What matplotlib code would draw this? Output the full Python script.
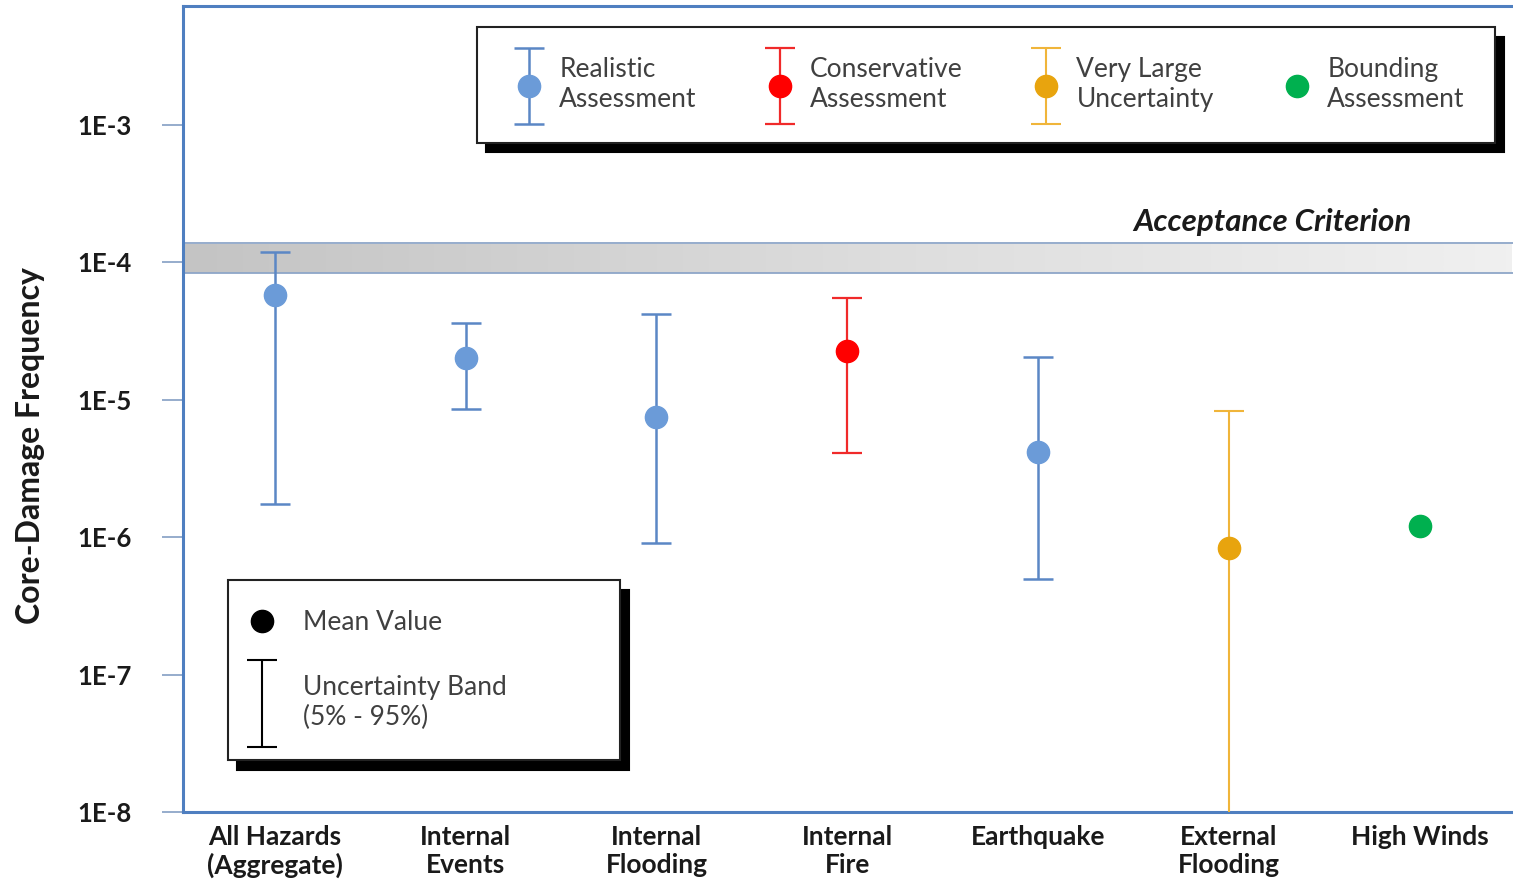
import numpy as np
import matplotlib
matplotlib.use('Agg')
import matplotlib.pyplot as plt
from matplotlib import rcParams
from matplotlib.colors import LinearSegmentedColormap
from matplotlib.container import ErrorbarContainer
from matplotlib.legend_handler import HandlerErrorbar
from matplotlib.lines import Line2D

rcParams['font.family'] = ['Lato', 'DejaVu Sans']

# data
categories = ['All Hazards\n(Aggregate)', 'Internal\nEvents', 'Internal\nFlooding',
              'Internal\nFire', 'Earthquake', 'External\nFlooding', 'High Winds']
mean_cdf = [5.8e-5, 2.0e-5, 7.5e-6, 2.25e-5, 4.2e-6, 8.3e-7, 1.2e-6]
low_cdf = [1.75e-6, 8.6e-6, 9.1e-7, 4.1e-6, 5.0e-7, 1e-9, np.nan]
high_cdf = [1.2e-4, 3.6e-5, 4.2e-5, 5.5e-5, 2.05e-5, 8.3e-6, np.nan]
kind = ['realistic', 'realistic', 'realistic', 'conservative', 'realistic', 'very_large', 'bounding']

acceptance_low = 8.4e-5
acceptance_high = 1.38e-4

ytick_vals = [1e-8, 1e-7, 1e-6, 1e-5, 1e-4, 1e-3]
ytick_labels = ['1E-8', '1E-7', '1E-6', '1E-5', '1E-4', '1E-3']

styles = {
    'realistic': dict(mc='#6b9bd8', ec='#5b87c5', label='Realistic\nAssessment', lw=1.8),
    'conservative': dict(mc='#ff0000', ec='#f02a2a', label='Conservative\nAssessment', lw=1.6),
    'very_large': dict(mc='#e8a40e', ec='#f0b53a', label='Very Large\nUncertainty', lw=1.5),
    'bounding': dict(mc='#00b04f', ec='#00b04f', label='Bounding\nAssessment', lw=1.5),
}

fig = plt.figure(figsize=(15.13, 8.8), dpi=100)
ax = fig.add_axes([183 / 1513, 68 / 880, 1 - 183 / 1513, (812 - 6) / 880])
ax.set_yscale('log')

x = np.arange(len(categories))
mean_cdf = np.array(mean_cdf)
low_cdf = np.array(low_cdf)
high_cdf = np.array(high_cdf)
kind = np.array(kind)

handles = {}
for k, st in styles.items():
    sel = kind == k
    xs = x[sel]
    if k == 'bounding':
        h, = ax.plot(xs, mean_cdf[sel], 'o', color=st['mc'], ms=16, zorder=4,
                     label=st['label'])
    else:
        yerr = np.vstack([mean_cdf[sel] - low_cdf[sel], high_cdf[sel] - mean_cdf[sel]])
        h = ax.errorbar(xs, mean_cdf[sel], yerr=yerr, fmt='o', color=st['mc'], ms=16,
                        ecolor=st['ec'], elinewidth=st['lw'], capsize=11,
                        capthick=st['lw'], zorder=4, label=st['label'])
    handles[k] = h

# acceptance criterion band
xmin, xmax = -0.482, 6.49
grad = np.linspace(0, 1, 256).reshape(1, -1)
cmap = LinearSegmentedColormap.from_list('band', ['#c4c4c4', '#dcdcdc', '#f0f0f0'])
ax.imshow(grad, extent=[xmin, xmax, acceptance_low, acceptance_high], aspect='auto',
          cmap=cmap, zorder=1, interpolation='bilinear')
ax.axhline(acceptance_low, color='#8ea6c8', lw=1.3, zorder=2)
ax.axhline(acceptance_high, color='#8ea6c8', lw=1.3, zorder=2)
ax.text(5.96, 1.55e-4, 'Acceptance Criterion', ha='right', va='bottom',
        fontsize=22.5, fontweight='bold', fontstyle='italic', color='#1a1a1a')

ax.set_xlim(xmin, xmax)
ax.set_ylim(1e-8, 7.35e-3)

ax.set_yticks(ytick_vals)
ax.set_yticklabels(ytick_labels)
ax.minorticks_off()
ax.set_xticks(x)
ax.set_xticklabels(categories)
ax.tick_params(axis='y', length=15, width=1.3, color='#8ea6c8', pad=22,
               labelsize=18.5, labelcolor='#1a1a1a')
ax.tick_params(axis='x', length=0, pad=9, labelsize=19, labelcolor='#1a1a1a')
for lab in ax.get_xticklabels() + ax.get_yticklabels():
    lab.set_fontweight('bold')

for s in ['left', 'top', 'bottom']:
    ax.spines[s].set_color('#4f7fc0')
    ax.spines[s].set_linewidth(2.2)
ax.spines['right'].set_visible(False)

ax.set_ylabel('Core-Damage Frequency', fontsize=23, fontweight='bold', color='#1a1a1a')
ax.yaxis.set_label_coords(-0.104, 0.455)

# top legend
shadow = {'color': 'black', 'alpha': 1, 'ox': 6.5, 'oy': -7}
leg1 = ax.legend([handles[k] for k in styles], [styles[k]['label'] for k in styles],
                 loc='upper left', bbox_to_anchor=(477 / 1513, 1 - 27 / 880, (1495 - 477) / 1513, 0.0),
                 bbox_transform=fig.transFigure, mode='expand', borderaxespad=0,
                 ncol=4, fontsize=19, frameon=True, fancybox=False, shadow=shadow,
                 handlelength=1.67, handletextpad=0.3, columnspacing=1.5, borderpad=1.15,
                 labelcolor='#404040',
                 handler_map={ErrorbarContainer: HandlerErrorbar(yerr_size=1.44)})
for t in leg1.get_texts():
    t.set_linespacing(1.25)
leg1.get_frame().set_edgecolor('#222222')
leg1.get_frame().set_linewidth(1.5)
ax.add_artist(leg1)

# bottom-left key legend
mean_h = Line2D([], [], marker='o', color='black', ls='none', ms=16)
band_h = ax.errorbar([np.nan], [np.nan], yerr=[[np.nan], [np.nan]], fmt='none',
                     ecolor='black', elinewidth=1.5, capsize=11, capthick=1.5)
leg2 = ax.legend([mean_h, band_h], ['Mean Value', 'Uncertainty Band\n(5% - 95%)'],
                 loc='upper left', bbox_to_anchor=(228 / 1513, 1 - 580 / 880, (620 - 228) / 1513, 0.0),
                 bbox_transform=fig.transFigure, mode='expand', borderaxespad=0,
                 fontsize=19, frameon=True, fancybox=False, shadow=shadow,
                 handlelength=0.3, handletextpad=1.4, borderpad=1.15, labelspacing=1.5,
                 labelcolor='#404040',
                 handler_map={ErrorbarContainer: HandlerErrorbar(yerr_size=1.65)})
for t in leg2.get_texts():
    t.set_linespacing(1.25)
leg2.get_frame().set_edgecolor('#222222')
leg2.get_frame().set_linewidth(1.5)

plt.savefig('out.png', dpi=100)
